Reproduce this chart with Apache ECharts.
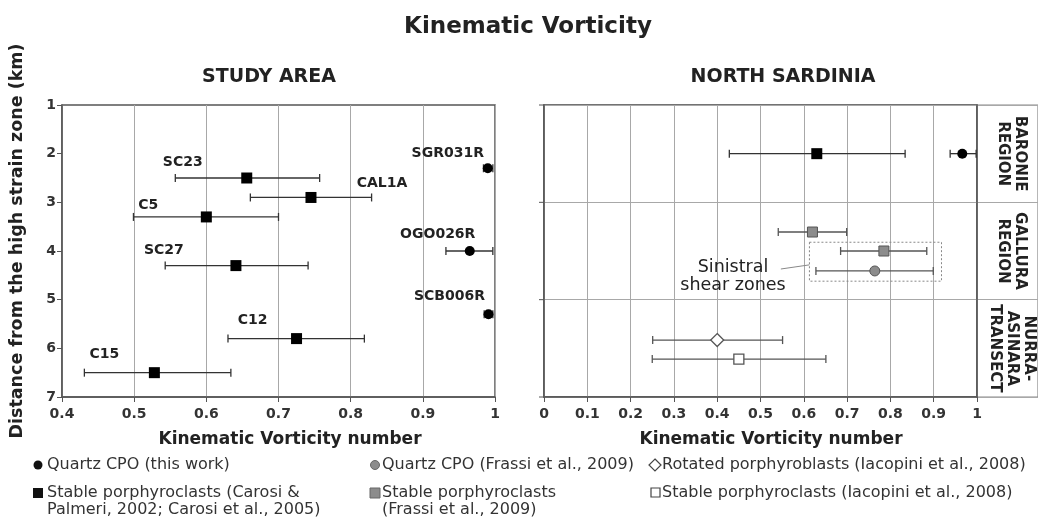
<!DOCTYPE html>
<html>
<head>
<meta charset="utf-8">
<script src="https://cdn.jsdelivr.net/npm/echarts@6/dist/echarts.min.js"></script>
<style>
  html, body { margin: 0; padding: 0; background: #fff; }
  #main { width: 1038px; height: 529px; }
</style>
</head>
<body>
<div id="main"></div>
<script>
// ---- study area: stable porphyroclasts (Carosi)
const saSqNames = ['SC23', 'CAL1A', 'C5', 'SC27', 'C12', 'C15'];
const saSqWk = [0.656, 0.745, 0.600, 0.641, 0.725, 0.528];
const saSqDist = [2.5, 2.9, 3.3, 4.3, 5.8, 6.5];
const saSqLo = [0.557, 0.661, 0.499, 0.543, 0.630, 0.431];
const saSqHi = [0.757, 0.829, 0.700, 0.741, 0.819, 0.634];

// ---- study area: quartz CPO (this work)
const saQzNames = ['SGR031R', 'OGO026R', 'SCB006R'];
const saQzWk = [0.990, 0.965, 0.991];
const saQzDist = [2.3, 4.0, 5.3];
const saQzLo = [0.984, 0.932, 0.985];
const saQzHi = [0.997, 0.997, 0.997];

// ---- north sardinia
const nsQzWk = [0.966], nsQzDist = [2.0], nsQzLo = [0.938], nsQzHi = [0.998];
const nsSqWk = [0.630], nsSqDist = [2.0], nsSqLo = [0.428], nsSqHi = [0.834];
const frQzWk = [0.764], frQzDist = [4.41], frQzLo = [0.628], frQzHi = [0.899];
const frSqWk = [0.620, 0.785], frSqDist = [3.61, 4.0], frSqLo = [0.541, 0.685], frSqHi = [0.699, 0.884];
const iaRotWk = [0.40], iaRotDist = [5.83], iaRotLo = [0.251], iaRotHi = [0.551];
const iaSqWk = [0.45], iaSqDist = [6.22], iaSqLo = [0.25], iaSqHi = [0.651];

// sinistral shear zones box (Wk range, distance range)
const sinBoxWk = [0.613, 0.918];
const sinBoxDist = [3.82, 4.62];

const regionNames = ['BARONIE\nREGION', 'GALLURA\nREGION', 'NURRA-\nASINARA\nTRANSECT'];
const regionDist = [2, 4, 6];
const regionBounds = [1, 3, 5, 7];

const FONT = 'DejaVu Sans';
const TXT = '#222';

const MyChart = echarts.init(document.getElementById('main'));

function errData(lo, hi, y) {
  return lo.map((v, i) => [v, hi[i], y[i]]);
}
function pts(x, y) {
  return x.map((v, i) => [v, y[i]]);
}

function errorBar(params, api) {
  const y = api.value(2);
  const a = api.coord([api.value(0), y]);
  const b = api.coord([api.value(1), y]);
  const st = { stroke: api.visual('color'), lineWidth: 1.3 };
  return {
    type: 'group',
    children: [
      { type: 'line', shape: { x1: a[0], y1: a[1], x2: b[0], y2: b[1] }, style: st },
      { type: 'line', shape: { x1: a[0], y1: a[1] - 4, x2: a[0], y2: a[1] + 4 }, style: st },
      { type: 'line', shape: { x1: b[0], y1: b[1] - 4, x2: b[0], y2: b[1] + 4 }, style: st }
    ]
  };
}

function errSeries(idx, lo, hi, y, color) {
  return {
    type: 'custom', xAxisIndex: idx, yAxisIndex: idx,
    renderItem: errorBar, data: errData(lo, hi, y),
    itemStyle: { color: color }, z: 2, silent: true
  };
}

const labelOffsets = {
  SC23: [-64, -16], CAL1A: [71, -14], C5: [-58, -12], SC27: [-72, -15],
  C12: [-44, -18], C15: [-50, -18],
  SGR031R: [-40, -15], OGO026R: [-32, -17], SCB006R: [-39, -18]
};
function named(names, x, y) {
  return names.map((n, i) => ({
    name: n, value: [x[i], y[i]],
    label: { offset: labelOffsets[n] }
  }));
}
const ptLabel = {
  show: true, position: 'inside', formatter: '{b}',
  fontFamily: FONT, fontWeight: 'bold', fontSize: 14, color: TXT
};

const fmt = v => String(Math.round(v * 10) / 10);

function xAx(idx, min, max) {
  return {
    gridIndex: idx, type: 'value', min: min, max: max, interval: 0.1,
    axisLine: { show: true, lineStyle: { color: '#555', width: 1.5 } },
    axisTick: { show: true, length: 5, lineStyle: { color: '#555' } },
    axisLabel: { formatter: fmt, fontFamily: FONT, fontWeight: 'bold', fontSize: 14, color: '#333', margin: 10, showMinLabel: true, showMaxLabel: true },
    splitLine: { show: true, lineStyle: { color: '#a8a8a8', width: 1 } }
  };
}
function yAx(idx, interval, labels, split) {
  return {
    gridIndex: idx, type: 'value', min: 1, max: 7, interval: interval, inverse: true,
    axisLine: { show: true, lineStyle: { color: '#555', width: 1.5 } },
    axisTick: { show: idx === 0, length: 5, lineStyle: { color: '#555' } },
    axisLabel: { show: labels, fontFamily: FONT, fontWeight: 'bold', fontSize: 14, color: '#333', margin: 6 },
    splitLine: { show: split, lineStyle: { color: '#a8a8a8', width: 1.2 } }
  };
}

const option = {
  animation: false,
  grid: [
    { left: 62, top: 105, width: 433, height: 292, show: true, borderColor: '#555', borderWidth: 1.5 },
    { left: 544, top: 105, width: 433, height: 292, show: true, borderColor: '#444', borderWidth: 1.5 },
    { left: 977, top: 105, width: 80, height: 292, show: true, borderColor: '#888', borderWidth: 1.2 }
  ],
  xAxis: [
    xAx(0, 0.4, 1),
    xAx(1, 0, 1),
    { gridIndex: 2, type: 'value', min: 0, max: 1, show: false }
  ],
  yAxis: [
    yAx(0, 1, true, false),
    yAx(1, 2, false, true),
    yAx(2, 2, false, true)
  ],
  series: [
    errSeries(0, saSqLo, saSqHi, saSqDist, '#333'),
    errSeries(0, saQzLo, saQzHi, saQzDist, '#333'),
    errSeries(1, nsSqLo, nsSqHi, nsSqDist, '#333'),
    errSeries(1, nsQzLo, nsQzHi, nsQzDist, '#333'),
    errSeries(1, frSqLo, frSqHi, frSqDist, '#555'),
    errSeries(1, frQzLo, frQzHi, frQzDist, '#555'),
    errSeries(1, iaRotLo, iaRotHi, iaRotDist, '#555'),
    errSeries(1, iaSqLo, iaSqHi, iaSqDist, '#555'),
    {
      type: 'scatter', xAxisIndex: 0, yAxisIndex: 0, symbol: 'rect', symbolSize: 11,
      itemStyle: { color: '#000', opacity: 1 }, z: 5, label: ptLabel,
      data: named(saSqNames, saSqWk, saSqDist)
    },
    {
      type: 'scatter', xAxisIndex: 0, yAxisIndex: 0, symbol: 'circle', symbolSize: 10,
      itemStyle: { color: '#000', opacity: 1 }, z: 5, label: ptLabel,
      data: named(saQzNames, saQzWk, saQzDist)
    },
    {
      type: 'scatter', xAxisIndex: 1, yAxisIndex: 1, symbol: 'rect', symbolSize: 11,
      itemStyle: { color: '#000', opacity: 1 }, z: 5, data: pts(nsSqWk, nsSqDist)
    },
    {
      type: 'scatter', xAxisIndex: 1, yAxisIndex: 1, symbol: 'circle', symbolSize: 10,
      itemStyle: { color: '#000', opacity: 1 }, z: 5, data: pts(nsQzWk, nsQzDist)
    },
    {
      type: 'scatter', xAxisIndex: 1, yAxisIndex: 1, symbol: 'rect', symbolSize: 10,
      itemStyle: { color: '#8c8c8c', borderColor: '#555', borderWidth: 1, opacity: 1 }, z: 5,
      data: pts(frSqWk, frSqDist),
      markArea: {
        silent: true,
        itemStyle: { color: 'rgba(0,0,0,0)', borderColor: '#888', borderWidth: 1, borderType: [2, 2] },
        data: [[{ coord: [sinBoxWk[0], sinBoxDist[0]] }, { coord: [sinBoxWk[1], sinBoxDist[1]] }]]
      }
    },
    {
      type: 'scatter', xAxisIndex: 1, yAxisIndex: 1, symbol: 'circle', symbolSize: 10,
      itemStyle: { color: '#8c8c8c', borderColor: '#555', borderWidth: 1, opacity: 1 }, z: 5,
      data: pts(frQzWk, frQzDist)
    },
    {
      type: 'scatter', xAxisIndex: 1, yAxisIndex: 1, symbol: 'diamond', symbolSize: [13, 13],
      itemStyle: { color: '#fff', borderColor: '#555', borderWidth: 1.3, opacity: 1 }, z: 5,
      data: pts(iaRotWk, iaRotDist)
    },
    {
      type: 'scatter', xAxisIndex: 1, yAxisIndex: 1, symbol: 'rect', symbolSize: 10,
      itemStyle: { color: '#fff', borderColor: '#555', borderWidth: 1.3, opacity: 1 }, z: 5,
      data: pts(iaSqWk, iaSqDist)
    },
    {
      type: 'scatter', xAxisIndex: 2, yAxisIndex: 2, symbolSize: 0, silent: true,
      itemStyle: { opacity: 1 },
      data: regionNames.map((n, i) => ({ name: n, value: [0.57, regionDist[i]] })),
      label: {
        show: true, position: 'inside', formatter: '{b}', rotate: -90,
        fontFamily: FONT, fontWeight: 'bold', fontSize: 15, lineHeight: 17, color: TXT, align: 'center'
      }
    }
  ]
};
MyChart.setOption(option);

// annotation + titles + legend
const p1 = MyChart.convertToPixel({ gridIndex: 1 }, [0.4365, 4.33]);
const p2 = MyChart.convertToPixel({ gridIndex: 1 }, [0.4365, 4.71]);
const l1 = MyChart.convertToPixel({ gridIndex: 1 }, [0.547, 4.37]);
const l2 = MyChart.convertToPixel({ gridIndex: 1 }, [sinBoxWk[0], 4.285]);

// short outside ticks on the right panel's distance axis at region bounds
const regionTicks = regionBounds.map(d => {
  const p = MyChart.convertToPixel({ gridIndex: 1 }, [0, d]);
  return { type: 'line', shape: { x1: p[0] - 5, y1: p[1], x2: p[0], y2: p[1] }, style: { stroke: '#555', lineWidth: 1 } };
});

function txt(x, y, s, size, weight, extra) {
  return Object.assign({
    type: 'text', x: x, y: y,
    style: { text: s, fontFamily: FONT, fontSize: size, fontWeight: weight, fill: TXT, align: 'center', verticalAlign: 'middle' }
  }, extra || {});
}
function legText(x, y, s) {
  return {
    type: 'text', x: x, y: y,
    style: { text: s, fontFamily: FONT, fontSize: 16, fill: '#333', align: 'left', verticalAlign: 'top', lineHeight: 17 }
  };
}

MyChart.setOption({
  graphic: regionTicks.concat([
    txt(528, 27, 'Kinematic Vorticity', 23, 'bold'),
    txt(269, 77, 'STUDY AREA', 19, 'bold'),
    txt(783, 77, 'NORTH SARDINIA', 19, 'bold'),
    txt(290, 440, 'Kinematic Vorticity number', 17, 'bold'),
    txt(771, 440, 'Kinematic Vorticity number', 17, 'bold'),
    txt(17, 241, 'Distance from the high strain zone (km)', 17.5, 'bold', { rotation: Math.PI / 2 }),
    Object.assign(txt(p1[0], p1[1], 'Sinistral', 17.5, 'normal'), { z: 10 }),
    Object.assign(txt(p2[0], p2[1], 'shear zones', 17.5, 'normal'), { z: 10 }),
    { type: 'line', shape: { x1: l1[0], y1: l1[1], x2: l2[0], y2: l2[1] }, style: { stroke: '#888', lineWidth: 1 }, z: 10 },

    { type: 'circle', shape: { cx: 38, cy: 465, r: 4.5 }, style: { fill: '#111' } },
    legText(47, 456, 'Quartz CPO (this work)'),
    { type: 'rect', shape: { x: 33, y: 488, width: 10, height: 10 }, style: { fill: '#111' } },
    legText(47, 484, 'Stable porphyroclasts (Carosi &\nPalmeri, 2002; Carosi et al., 2005)'),
    { type: 'circle', shape: { cx: 375, cy: 465, r: 4.5 }, style: { fill: '#8c8c8c', stroke: '#666', lineWidth: 1 } },
    legText(382, 456, 'Quartz CPO (Frassi et al., 2009)'),
    { type: 'rect', shape: { x: 370, y: 488, width: 10, height: 10 }, style: { fill: '#8c8c8c', stroke: '#666', lineWidth: 1 } },
    legText(382, 484, 'Stable porphyroclasts\n(Frassi et al., 2009)'),
    { type: 'polygon', shape: { points: [[655, 459], [661, 465], [655, 471], [649, 465]] }, style: { fill: '#fff', stroke: '#444', lineWidth: 1.2 } },
    legText(662, 456, 'Rotated porphyroblasts (Iacopini et al., 2008)'),
    { type: 'rect', shape: { x: 651, y: 488, width: 9, height: 9 }, style: { fill: '#fff', stroke: '#444', lineWidth: 1.2 } },
    legText(662, 484, 'Stable porphyroclasts (Iacopini et al., 2008)')
  ])
});
</script>
</body>
</html>
